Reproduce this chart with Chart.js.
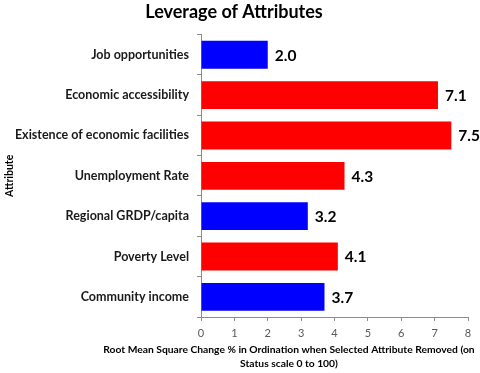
<!DOCTYPE html>
<html>
<head>
<meta charset="utf-8">
<script src="https://cdn.jsdelivr.net/npm/chart.js@4"></script>
<style>
  html, body { margin: 0; padding: 0; background: #fff; }
  #wrap { width: 480px; height: 373px; }
</style>
</head>
<body>
<div id="wrap"><canvas id="chart"></canvas></div>
<script>
// Chart data
const attributes = ['Job opportunities', 'Economic accessibility', 'Existence of economic facilities',
    'Unemployment Rate', 'Regional GRDP/capita', 'Poverty Level', 'Community income'];
const leverage = [2.0, 7.1, 7.5, 4.3, 3.2, 4.1, 3.7];
const barColors = ['#0000ff', '#ff0000', '#ff0000', '#ff0000', '#0000ff', '#ff0000', '#0000ff'];
const xTitleLines = ['Root Mean Square Change % in Ordination when Selected Attribute Removed (on',
    'Status scale 0 to 100)'];

const FONT = 'Lato, "Open Sans", sans-serif';

// value labels at bar ends
const valueLabels = {
    id: 'valueLabels',
    afterDatasetsDraw(chart) {
        const ctx = chart.ctx;
        const meta = chart.getDatasetMeta(0);
        ctx.save();
        ctx.font = 'bold 15.5px ' + FONT;
        ctx.fillStyle = '#000';
        ctx.textAlign = 'left';
        ctx.textBaseline = 'middle';
        meta.data.forEach((bar, i) => {
            ctx.fillText(leverage[i].toFixed(1), bar.x + 7, bar.y + 1);
        });
        ctx.restore();
    }
};

// x axis title, centered like the original (not over the plot area)
const xTitle = {
    id: 'xTitle',
    afterDraw(chart) {
        const ctx = chart.ctx;
        ctx.save();
        ctx.font = 'bold 10.3px ' + FONT;
        ctx.fillStyle = '#000';
        ctx.textAlign = 'center';
        ctx.textBaseline = 'middle';
        ctx.fillText(xTitleLines[0], 289, 350);
        ctx.fillText(xTitleLines[1], 289, 364);
        ctx.restore();
    }
};

new Chart(document.getElementById('chart'), {
    type: 'bar',
    data: {
        labels: attributes,
        datasets: [{
            data: leverage,
            backgroundColor: barColors,
            borderWidth: 0,
            categoryPercentage: 1,
            barPercentage: 0.69
        }]
    },
    options: {
        indexAxis: 'y',
        responsive: true,
        maintainAspectRatio: false,
        animation: false,
        layout: { padding: { top: 0, right: 12, left: 0, bottom: 0 } },
        plugins: {
            legend: { display: false },
            tooltip: { enabled: false },
            title: {
                display: true,
                text: 'Leverage of Attributes',
                color: '#000',
                font: { family: FONT, size: 18, weight: 'bold' },
                padding: { top: 1, bottom: 12 }
            }
        },
        scales: {
            x: {
                min: 0,
                max: 8,
                ticks: {
                    stepSize: 1,
                    color: '#595959',
                    font: { family: FONT, size: 11 },
                    padding: 6
                },
                grid: {
                    drawOnChartArea: false,
                    drawTicks: true,
                    tickLength: 4,
                    color: '#8c8c8c'
                },
                border: { color: '#8c8c8c' },
                afterFit(scale) { scale.height = 56; }
            },
            y: {
                ticks: {
                    color: '#1a1a1a',
                    font: { family: FONT, size: 12.5, weight: 'bold' },
                    padding: 8
                },
                grid: {
                    drawOnChartArea: false,
                    drawTicks: true,
                    tickLength: 4,
                    offset: true,
                    color: '#8c8c8c'
                },
                border: { color: '#8c8c8c' },
                title: {
                    display: true,
                    text: 'Attribute',
                    color: '#000',
                    font: { family: FONT, size: 10.5, weight: 'bold' },
                    padding: { top: 3, bottom: 0 }
                },
                afterFit(scale) { scale.width = 201; }
            }
        }
    },
    plugins: [valueLabels, xTitle]
});
</script>
</body>
</html>
